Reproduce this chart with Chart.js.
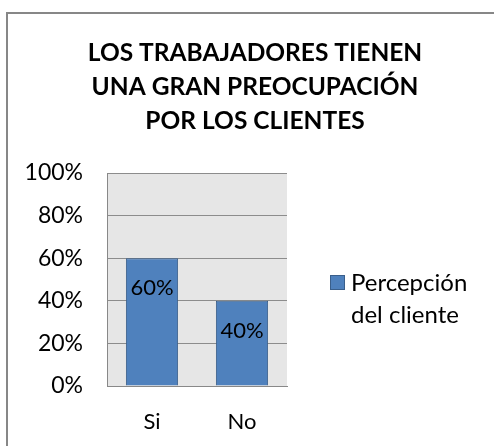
<!DOCTYPE html>
<html>
<head>
<meta charset="utf-8">
<script src="https://cdn.jsdelivr.net/npm/chart.js@4/dist/chart.umd.min.js"></script>
<style>
html,body{margin:0;padding:0;background:#fff;}
#wrap{width:494px;height:446px;position:relative;}
</style>
</head>
<body>
<div id="wrap"><canvas id="c" width="494" height="446"></canvas></div>
<script>
const titleLines = ["LOS TRABAJADORES TIENEN", "UNA GRAN PREOCUPACIÓN", "POR LOS CLIENTES"];
const categories = ["Si", "No"];
const seriesLabel = "Percepción del cliente";
const legendLines = ["Percepción", "del cliente"];
const seriesValues = [60, 40];
const yTicks = [0, 20, 40, 60, 80, 100];

const FONT = "Lato, 'Open Sans', sans-serif";
const barFill = "#4F81BD";
const barEdge = "#3A5F8B";

const framePlugin = {
  id: "frame",
  beforeDraw(chart) {
    const ctx = chart.ctx, a = chart.chartArea;
    ctx.save();
    ctx.fillStyle = "#fff";
    ctx.fillRect(0, 0, chart.width, chart.height);
    ctx.strokeStyle = "#878787";
    ctx.lineWidth = 2;
    ctx.strokeRect(7, 13, 600, 600);
    ctx.fillStyle = "#E6E6E6";
    ctx.fillRect(a.left, a.top, a.right - a.left, a.bottom - a.top);
    ctx.restore();
  }
};

const labelPlugin = {
  id: "barLabels",
  afterDatasetsDraw(chart) {
    const ctx = chart.ctx;
    const meta = chart.getDatasetMeta(0);
    ctx.save();
    ctx.font = "22px " + FONT;
    ctx.fillStyle = "#000";
    ctx.textAlign = "center";
    ctx.textBaseline = "middle";
    meta.data.forEach((bar, i) => {
      ctx.fillText(seriesValues[i] + "%", bar.x, bar.y + 30);
    });
    ctx.restore();
  }
};

const legendPlugin = {
  id: "sideLegend",
  afterDraw(chart) {
    const ctx = chart.ctx;
    ctx.save();
    ctx.fillStyle = barFill;
    ctx.fillRect(330, 275, 15, 15);
    ctx.strokeStyle = barEdge;
    ctx.lineWidth = 1;
    ctx.strokeRect(330.5, 275.5, 14, 14);
    ctx.font = "24px " + FONT;
    ctx.fillStyle = "#000";
    ctx.textAlign = "left";
    ctx.textBaseline = "middle";
    legendLines.forEach((t, i) => ctx.fillText(t, 351, 283 + i * 32));
    ctx.restore();
  }
};

new Chart(document.getElementById("c"), {
  type: "bar",
  data: {
    labels: categories,
    datasets: [{
      label: seriesLabel,
      data: seriesValues,
      backgroundColor: barFill,
      borderColor: barEdge,
      borderWidth: 1,
      barPercentage: 0.58,
      categoryPercentage: 1
    }]
  },
  options: {
    responsive: false,
    animation: false,
    devicePixelRatio: 1,
    layout: { padding: { top: 0, left: 16, right: 0, bottom: 0 } },
    plugins: {
      legend: { display: false },
      tooltip: { enabled: false },
      title: {
        display: true,
        text: titleLines,
        color: "#000",
        font: { family: FONT, size: 24.5, weight: "bold", lineHeight: 34 / 24.5 },
        padding: { top: 36, bottom: 35 }
      }
    },
    scales: {
      x: {
        grid: { display: false, drawTicks: false },
        border: { display: true, color: "#888", width: 1 },
        ticks: { color: "#000", font: { family: FONT, size: 22 }, padding: 23 },
        afterFit(s) { s.height = 60; }
      },
      y: {
        min: 0, max: 100,
        afterBuildTicks(s) { s.ticks = yTicks.map(v => ({ value: v })); },
        grid: { color: "#8C8C8C", lineWidth: 1, drawTicks: false },
        border: { display: true, color: "#888", width: 1 },
        ticks: { color: "#000", font: { family: FONT, size: 23 }, padding: 24, callback: v => v + "%" },
        afterFit(s) { s.width = 91; }
      },
      side: {
        type: "linear",
        position: "right",
        display: true,
        grid: { display: false, drawTicks: false },
        border: { display: false },
        ticks: { display: false },
        afterFit(s) { s.width = 207; }
      }
    }
  },
  plugins: [framePlugin, labelPlugin, legendPlugin]
});
</script>
</body>
</html>
